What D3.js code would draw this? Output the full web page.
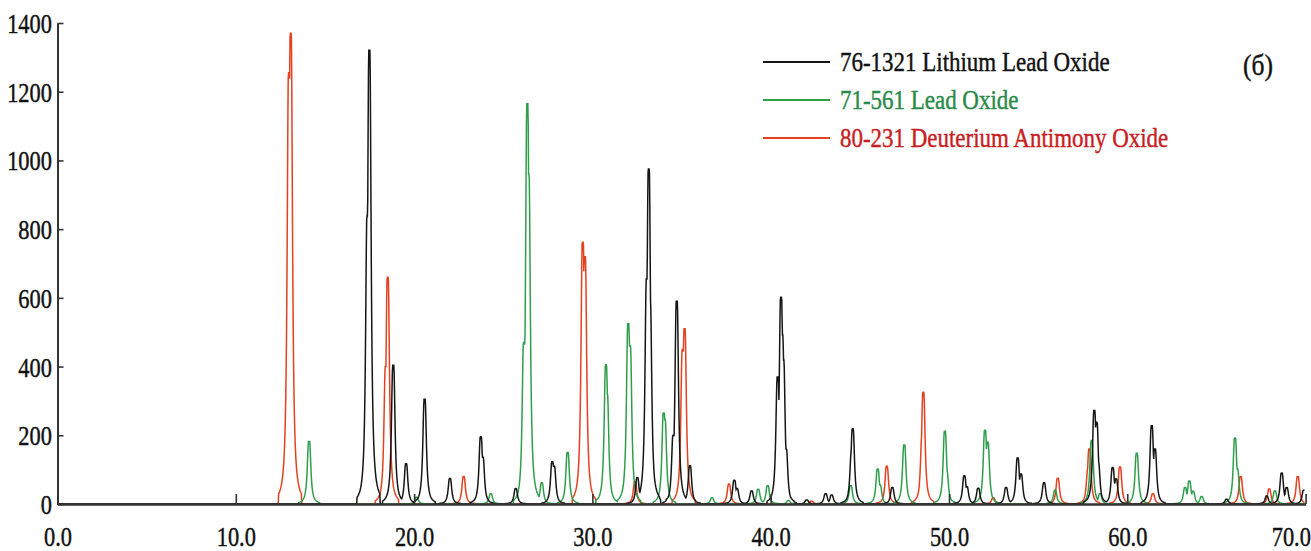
<!DOCTYPE html>
<html>
<head>
<meta charset="utf-8">
<script src="https://cdn.jsdelivr.net/npm/d3@7"></script>
<style>
  html, body { margin: 0; padding: 0; background: #fff; }
  svg { display: block; }
</style>
</head>
<body>
<svg id="chart" width="1311" height="551"></svg>
<script>
// Reference-card reflections: 2θ position (degrees) and intensity for each phase
const lithiumPos = [17.38, 17.49, 18.83, 19.55, 20.59, 22.01, 23.74, 23.85, 25.7, 27.75, 27.85,
  32.52, 33.05, 33.16, 33.23, 34.54, 34.73, 35.47, 37.96, 38.11, 38.93, 40.39, 40.58, 40.65,
  40.71, 40.86, 42.02, 43.08, 43.42, 44.54, 44.6, 44.82, 46.82, 50.86, 51.0, 51.64, 53.2,
  53.85, 54.04, 55.33, 58.15, 58.28, 58.37, 59.18, 59.37, 61.37, 61.55, 65.57, 67.82, 68.66,
  68.94, 69.9];
const lithiumInt = [838, 1321, 404, 117, 305, 74, 196, 136, 45, 123, 110,
  77, 655, 975, 594, 200, 590, 111, 69, 45, 38, 370, 602, 492,
  419, 160, 12, 30, 26, 150, 219, 20, 48, 82, 50, 46, 48,
  134, 87, 62, 272, 238, 120, 106, 73, 228, 160, 14, 23, 90,
  48, 40];

const leadPos = [14.11, 20.15, 24.3, 26.16, 26.3, 26.35, 26.42, 26.55, 27.16, 28.61, 30.76,
  30.82, 32.01, 32.11, 34.0, 34.06, 36.71, 39.3, 39.83, 40.99, 44.49, 46.0, 46.13, 47.49,
  49.77, 49.87, 52.02, 52.17, 55.95, 58.0, 58.47, 60.53, 63.24, 63.48, 63.69, 64.17, 66.04,
  66.17, 68.28];
const leadInt = [182, 20, 30, 470, 600, 1165, 960, 160, 62, 150, 405,
  320, 525, 460, 265, 245, 18, 43, 53, 10, 53, 102, 55, 172,
  212, 95, 215, 180, 40, 185, 30, 148, 48, 67, 37, 22, 192,
  102, 38];

const antimonyPos = [12.98, 13.08, 18.41, 18.52, 22.78, 29.46, 29.58, 32.39, 35.06, 35.17,
  37.66, 42.3, 46.51, 48.5, 48.56, 52.48, 56.1, 57.8, 57.87, 59.59, 61.44, 66.36, 67.96, 69.56];
const antimonyInt = [1255, 1370, 400, 660, 80, 762, 720, 65, 450, 510,
  58, 8, 110, 200, 325, 18, 75, 100, 160, 108, 30, 80, 44, 80];

const seriesNames = ["76-1321 Lithium Lead Oxide", "71-561 Lead Oxide", "80-231 Deuterium Antimony Oxide"];
const lineColors = ["#151515", "#2f9e4c", "#e5401f"];
const labelColors = ["#111111", "#2a8a48", "#c81e24"];

const xTicks = [0, 10, 20, 30, 40, 50, 60, 70];
const yTicks = [0, 200, 400, 600, 800, 1000, 1200, 1400];
const panelLabel = "(б)";

// ---- layout ----
const FONT = "Liberation Serif, Tinos, DejaVu Serif, serif";
const svg = d3.select("#chart");
const x = d3.scaleLinear().domain([0, 70]).range([57.5, 1305.6]);
const y = d3.scaleLinear().domain([0, 1400]).range([504, 23]);
const squeeze = 0.8;   // narrow serif lettering

// Each reflection is drawn as a narrow line with a tiny flat crest and
// Lorentzian flanks; a phase's trace is the envelope of its reflections.
const gamma = 0.085;
const crest = 0.03;
function lineShape(d) {
  const a = Math.abs(d);
  if (a > 0.6) return 0;
  if (a <= crest) return 1;
  const u = (a - crest) / gamma;
  return 1 / (1 + u * u);
}
function trace(pos, inten) {
  const pts = [];
  const step = 0.02;
  for (let t = 0; t <= 69.96; t += step) {
    let v = 0;
    for (let i = 0; i < pos.length; i++) {
      const d = t - pos[i];
      if (Math.abs(d) <= 0.6) v = Math.max(v, inten[i] * lineShape(d));
    }
    pts.push([t, v]);
  }
  return pts;
}

const line = d3.line().x(d => x(d[0])).y(d => y(d[1]));

const series = [
  { pos: antimonyPos, inten: antimonyInt, color: lineColors[2] },
  { pos: leadPos, inten: leadInt, color: lineColors[1] },
  { pos: lithiumPos, inten: lithiumInt, color: lineColors[0] }
];

const plot = svg.append("g");
series.forEach(s => {
  plot.append("path")
    .datum(trace(s.pos, s.inten))
    .attr("fill", "none")
    .attr("stroke", s.color)
    .attr("stroke-width", 1.5)
    .attr("stroke-linejoin", "miter")
    .attr("d", line);
});

// slightly heavier lettering
function weight(sel, color) {
  sel.attr("stroke", color).attr("stroke-width", 0.45).attr("paint-order", "stroke");
}

// ---- axes ----
const xAxis = svg.append("g")
  .attr("transform", `translate(0,${y(0)})`)
  .call(d3.axisBottom(x).tickValues(xTicks).tickSizeInner(-10).tickSizeOuter(0)
    .tickFormat(d3.format(".1f")));
xAxis.attr("font-family", FONT);
xAxis.select(".domain").attr("stroke", "#333").attr("stroke-width", 2.4);
xAxis.selectAll(".tick line").attr("stroke", "#333").attr("stroke-width", 1.6);
xAxis.selectAll(".tick text")
  .attr("y", 42).attr("dy", null)
  .style("font-family", FONT)
  .attr("font-size", 28)
  .attr("fill", "#111")
  .attr("transform", `scale(${squeeze},1)`)
  .call(weight, "#111");
xAxis.selectAll(".tick text").filter(d => d === 70)
  .attr("text-anchor", "end")
  .attr("x", 6);

const yAxis = svg.append("g")
  .attr("transform", `translate(${x(0)},0)`)
  .call(d3.axisLeft(y).tickValues(yTicks).tickSizeInner(-6).tickSizeOuter(0).tickPadding(7)
    .tickFormat(d3.format("d")));
yAxis.attr("font-family", FONT);
yAxis.select(".domain").attr("stroke", "#333").attr("stroke-width", 2);
yAxis.selectAll(".tick line").attr("stroke", "#333").attr("stroke-width", 1.6);
yAxis.selectAll(".tick text")
  .style("font-family", FONT)
  .attr("font-size", 28)
  .attr("fill", "#111")
  .attr("dy", "0.34em")
  .attr("transform", `scale(${squeeze},1)`)
  .call(weight, "#111");

// ---- legend ----
const legend = svg.append("g");
seriesNames.forEach((name, i) => {
  const ly = 62 + i * 38;
  legend.append("line")
    .attr("x1", 763).attr("x2", 830)
    .attr("y1", ly).attr("y2", ly)
    .attr("stroke", lineColors[i]).attr("stroke-width", 2);
  legend.append("text")
    .attr("transform", `translate(840,${ly + 9}) scale(0.82,1)`)
    .style("font-family", FONT)
    .attr("font-size", 28)
    .attr("fill", labelColors[i])
    .text(name)
    .call(weight, labelColors[i]);
});

svg.append("text")
  .attr("transform", "translate(1243,75) scale(0.85,1)")
  .style("font-family", FONT)
  .attr("font-size", 30)
  .attr("fill", "#111")
  .text(panelLabel)
  .call(weight, "#111");
</script>
</body>
</html>
